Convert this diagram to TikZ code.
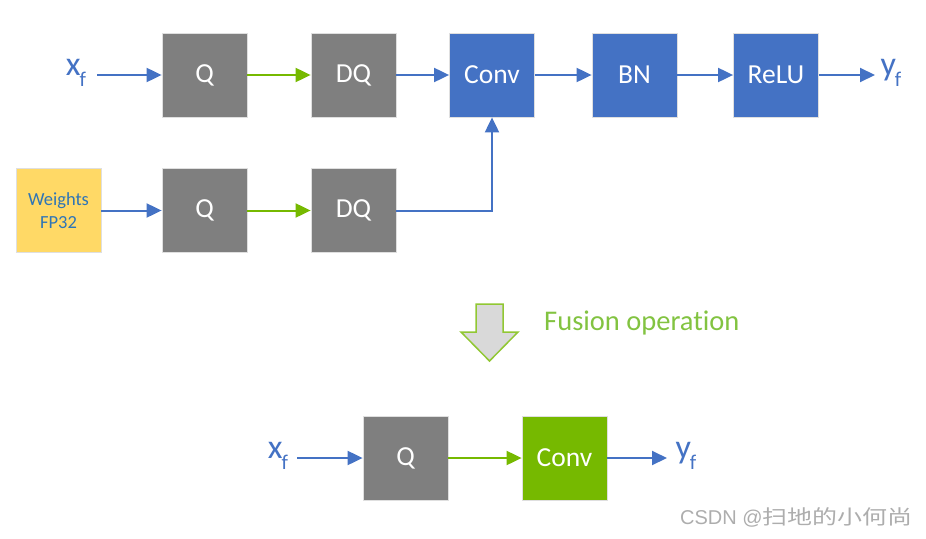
\documentclass[tikz,border=0pt]{standalone}
\usepackage{fontspec}
\setmainfont{Carlito}[Ligatures={NoCommon}, RawFeature={-liga;-clig;-dlig}]
\newfontfamily\wmfont{Liberation Sans}
\newfontfamily\cjk{Noto Sans CJK SC}
\usetikzlibrary{arrows.meta}
\definecolor{boxgray}{HTML}{7F7F7F}
\definecolor{boxblue}{HTML}{4472C4}
\definecolor{boxgreen}{HTML}{76B900}
\definecolor{txtgreen}{HTML}{82C341}
\definecolor{wyellow}{HTML}{FFD966}
\definecolor{wtext}{HTML}{2E75B6}
\definecolor{fusfill}{HTML}{D9D9D9}
\tikzset{
  blk/.style={draw=white!75!gray, line width=0.8pt, minimum width=85pt, minimum height=84pt, inner sep=0pt, text=white, font=\fontsize{27.5}{30}\selectfont},
  gblk/.style={blk, fill=boxgray},
  bblk/.style={blk, fill=boxblue},
  grblk/.style={blk, fill=boxgreen},
  arr/.style={line width=2pt, -{Triangle[length=15pt,width=14pt]}},
  barr/.style={arr, draw=boxblue},
  garr/.style={arr, draw=boxgreen},
  lbl/.style={text=boxblue, inner sep=0pt}
}
\newcommand{\xsub}[2]{{\fontsize{34}{36}\selectfont #1\kern-0.03em\raisebox{-0.32em}{\fontsize{21}{22}\selectfont #2}}}
\begin{document}
\begin{tikzpicture}[x=1pt,y=-1pt]
\useasboundingbox (0,0) rectangle (926,538);
% top row
\node[gblk] (q1) at (204.5,75) {Q};
\node[gblk] (dq1) at (353.5,75) {DQ};
\node[bblk] (conv) at (492,75) {Conv};
\node[bblk] (bn) at (634.5,75) {BN};
\node[bblk] (relu) at (776,75) {ReLU};
\node[lbl] (xf1) at (76,73) {\xsub{x}{f}};
\node[lbl] (yf1) at (891,73) {\xsub{y}{f}};
\coordinate (xs1) at (97,75);
\coordinate (ye1) at (875,75);
% second row
\node[blk, fill=wyellow, text=wtext, align=center, font=\fontsize{18.5}{23}\selectfont] (w) at (58.5,210.5) {Weights\\FP32};
\node[gblk] (q2) at (204.5,210.5) {Q};
\node[gblk] (dq2) at (353.5,210.5) {DQ};
% connectors
\draw[barr] (xs1) -- (q1.west);
\draw[garr] (q1.east) -- (dq1.west);
\draw[barr] (dq1.east) -- (conv.west);
\draw[barr] (conv.east) -- (bn.west);
\draw[barr] (bn.east) -- (relu.west);
\draw[barr] (relu.east) -- (ye1);
\draw[barr] (w.east) -- (q2.west);
\draw[garr] (q2.east) -- (dq2.west);
\draw[barr] (dq2.east) -| (conv.south);
% fusion arrow
\draw[draw=boxgreen!80!white, line width=1.5pt, fill=fusfill, line join=miter]
  (476,304) -- (503,304) -- (503,332) -- (518,332) -- (489.5,361) -- (461,332) -- (476,332) -- cycle;
\node[text=txtgreen, anchor=west, inner sep=0pt, font=\fontsize{28.5}{30}\selectfont] (fus) at (544,323) {Fusion operation};
% bottom row
\node[gblk] (q3) at (405.5,458) {Q};
\node[grblk] (conv2) at (564.5,458) {Conv};
\node[lbl] (xf3) at (278,456) {\xsub{x}{f}};
\node[lbl] (yf3) at (686,456) {\xsub{y}{f}};
\coordinate (xs3) at (297,458);
\coordinate (ye3) at (667,458);
\draw[barr] (xs3) -- (q3.west);
\draw[garr] (q3.east) -- (conv2.west);
\draw[barr] (conv2.east) -- (ye3);
% watermark
\node[text=black!32, anchor=west, inner sep=0pt, font=\fontsize{20}{22}\selectfont] (wm) at (680,517) {\wmfont CSDN @\scalebox{1.25}[1]{\cjk 扫地的小何尚}};
\end{tikzpicture}
\end{document}
